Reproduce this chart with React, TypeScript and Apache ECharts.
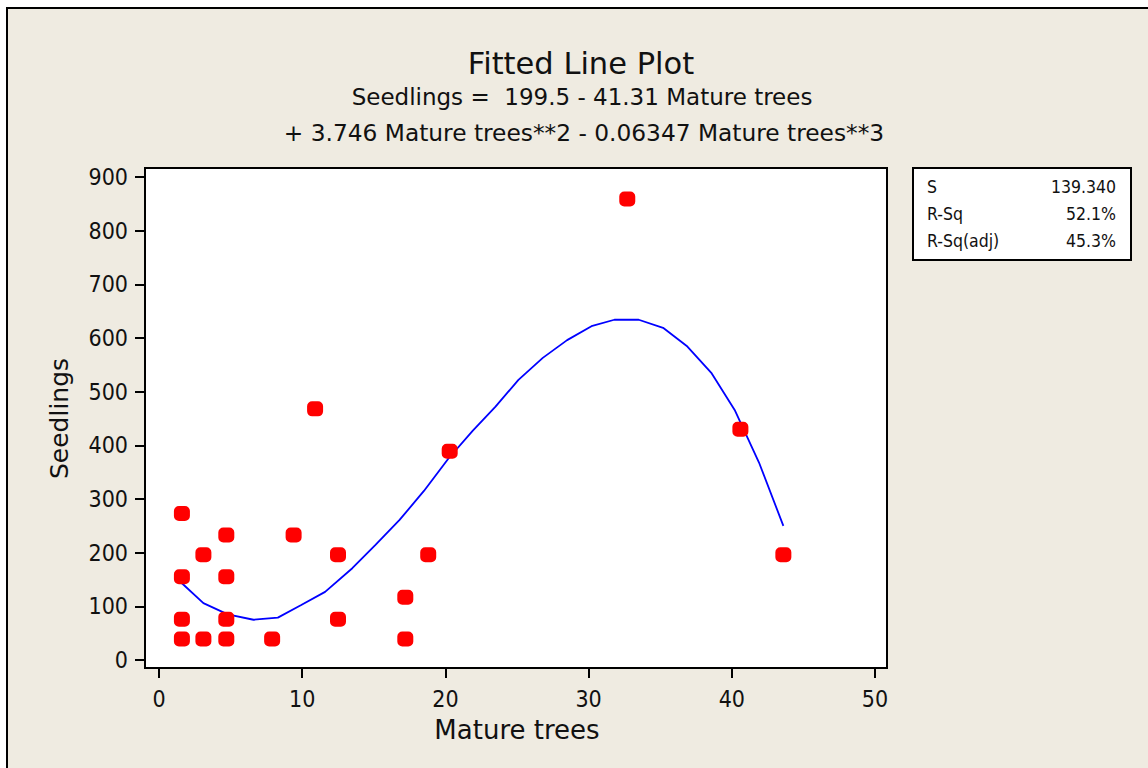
import React, { useEffect, useRef } from "react";
import * as echarts from "echarts";

// Observed data points (Mature trees, Seedlings)
const treesX = [1.6, 1.6, 1.6, 1.6, 3.1, 3.1, 4.7, 4.7, 4.7, 4.7, 7.9, 9.4, 10.9, 12.5, 12.5, 17.2, 17.2, 18.8, 20.3, 32.7, 40.6, 43.6];
const seedlingsY = [273, 155, 76, 39, 196, 39, 233, 155, 76, 39, 39, 233, 468, 196, 76, 117, 39, 196, 389, 859, 430, 196];

// Fitted cubic line
const fitX = [1.6, 3.1, 4.8, 6.6, 8.3, 9.9, 11.6, 13.5, 15.1, 16.8, 18.5, 20.2, 21.9, 23.5, 25.1, 26.8, 28.5, 30.2, 31.8, 33.5, 35.2, 36.9, 38.6, 40.2, 41.9, 43.6];
const fitY = [143, 106, 85, 75, 79, 102, 127, 171, 214, 261, 315, 375, 427, 472, 522, 563, 596, 622, 634, 634, 619, 584, 534, 466, 368, 250];

const titleText = "Fitted Line Plot";
const equationLines = [
  "Seedlings =  199.5 - 41.31 Mature trees",
  "+ 3.746 Mature trees**2 - 0.06347 Mature trees**3",
];
const xName = "Mature trees";
const yName = "Seedlings";
const statLabels = ["S", "R-Sq", "R-Sq(adj)"];
const statValues = ["139.340", "52.1%", "45.3%"];

const markerPath =
  "path://M5,0 H11 A5,5 0 0 1 16,5 V10 A5,5 0 0 1 11,15 H5 A5,5 0 0 1 0,10 V5 A5,5 0 0 1 5,0 Z";

export default function App() {
  const ref = useRef<HTMLDivElement>(null);

  useEffect(() => {
    if (!ref.current) return;
    const chart = echarts.init(ref.current, undefined, { renderer: "svg" });

    const textColor = "#111";
    const statRowsY = [187, 214, 241];

    const graphics: any[] = [
      {
        type: "rect",
        z: -20,
        shape: { x: 7, y: 8, width: 1200, height: 800 },
        style: { fill: "#EFEBE1", stroke: "#000", lineWidth: 2 },
        silent: true,
      },
      {
        type: "rect",
        z: -10,
        shape: { x: 145, y: 168, width: 742, height: 500 },
        style: { fill: "#FFFFFF", stroke: "#000", lineWidth: 2 },
        silent: true,
      },
      {
        type: "rect",
        z: -10,
        shape: { x: 913, y: 168, width: 218, height: 92 },
        style: { fill: "#FFFFFF", stroke: "#000", lineWidth: 2 },
        silent: true,
      },
      {
        type: "text",
        x: 581,
        y: 63,
        z: 10,
        style: {
          text: titleText,
          fontSize: 30.5,
          fontFamily: "DejaVu Sans",
          fill: textColor,
          align: "center",
          verticalAlign: "middle",
        },
      },
      {
        type: "text",
        x: 582,
        y: 97,
        z: 10,
        style: {
          text: equationLines[0],
          fontSize: 23,
          fontFamily: "DejaVu Sans",
          fill: textColor,
          align: "center",
          verticalAlign: "middle",
        },
      },
      {
        type: "text",
        x: 584,
        y: 132,
        z: 10,
        style: {
          text: equationLines[1],
          fontSize: 23.3,
          fontFamily: "DejaVu Sans",
          fill: textColor,
          align: "center",
          verticalAlign: "middle",
        },
      },
    ];

    statLabels.forEach((lab, i) => {
      graphics.push({
        type: "text",
        x: 927,
        y: statRowsY[i],
        z: 10,
        style: {
          text: lab,
          fontSize: 17.5,
          fontFamily: "DejaVu Sans Condensed",
          fill: textColor,
          align: "left",
          verticalAlign: "middle",
        },
      });
      graphics.push({
        type: "text",
        x: 1116,
        y: statRowsY[i],
        z: 10,
        style: {
          text: statValues[i],
          fontSize: 17.5,
          fontFamily: "DejaVu Sans Condensed",
          fill: textColor,
          align: "right",
          verticalAlign: "middle",
        },
      });
    });

    const axisCommon = {
      type: "value" as const,
      axisLine: { show: false, onZero: false },
      axisTick: { show: true, length: 10, inside: false, lineStyle: { color: "#000", width: 2 } },
      splitLine: { show: false },
      nameLocation: "middle" as const,
      nameMoveOverlap: false,
      nameTextStyle: { fontSize: 26, fontFamily: "DejaVu Sans", color: textColor },
    };

    chart.setOption({
      animation: false,
      backgroundColor: "#FFFFFF",
      grid: { left: 159, right: 273, top: 177, bottom: 108 },
      xAxis: {
        ...axisCommon,
        min: 0,
        max: 50,
        interval: 10,
        offset: 8,
        name: xName,
        nameGap: 49,
        axisLabel: { margin: 19, fontSize: 23, fontFamily: "DejaVu Sans Condensed", color: textColor },
      },
      yAxis: {
        ...axisCommon,
        min: 0,
        max: 900,
        interval: 100,
        offset: 14,
        name: yName,
        nameGap: 73,
        nameTextStyle: { fontSize: 25, fontFamily: "DejaVu Sans", color: textColor },
        axisLabel: { margin: 17, fontSize: 23, fontFamily: "DejaVu Sans Condensed", color: textColor },
      },
      graphic: graphics,
      series: [
        {
          type: "line",
          data: fitX.map((x, i) => [x, fitY[i]]),
          showSymbol: false,
          symbol: "none",
          lineStyle: { color: "#0000FF", width: 1.8 },
          z: 2,
          silent: true,
        },
        {
          type: "scatter",
          data: treesX.map((x, i) => [x, seedlingsY[i]]),
          symbol: markerPath,
          symbolSize: [16, 15],
          itemStyle: { color: "#FF0000", opacity: 1 },
          z: 3,
        },
      ],
    });

    return () => chart.dispose();
  }, []);

  return (
    <div
      ref={ref}
      style={{ position: "fixed", left: 0, top: 0, width: 1148, height: 768 }}
    />
  );
}
